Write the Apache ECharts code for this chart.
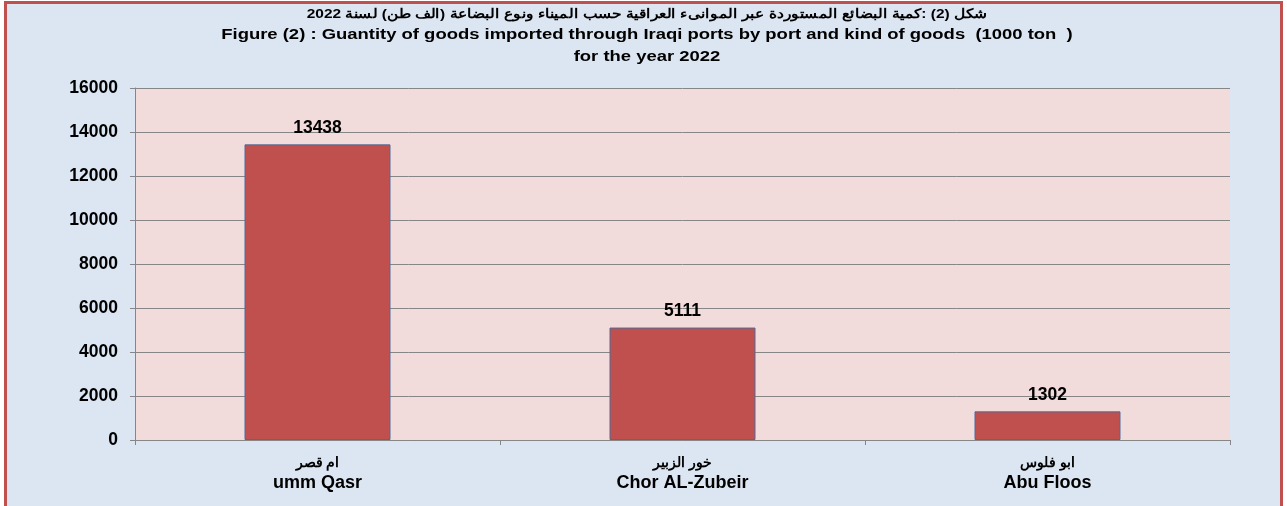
<!DOCTYPE html>
<html><head><meta charset="utf-8">
<script src="https://cdn.jsdelivr.net/npm/echarts@6/dist/echarts.min.js"></script>
<style>
html,body{margin:0;padding:0;background:#fff;}
#frame{position:absolute;left:4px;top:1px;width:1279px;height:510px;box-sizing:border-box;border:3px solid #C0504D;border-bottom:none;background:#DCE6F2;}
#c{position:absolute;left:0;top:0;width:1287px;height:506px;}
</style></head>
<body>
<div id="frame"></div>
<div id="c"></div>
<script>
const categoriesAr = ['ام قصر', 'خور الزبير', 'ابو فلوس'];
const categoriesEn = ['umm Qasr', 'Chor AL-Zubeir', 'Abu Floos'];
const values = [13438, 5111, 1302];
const titleAr = 'شكل (2) :كمية البضائع المستوردة عبر الموانىء العراقية حسب الميناء ونوع البضاعة (الف طن) لسنة 2022';
const titleEn1 = 'Figure (2) : Guantity of goods imported through Iraqi ports by port and kind of goods  (1000 ton  )';
const titleEn2 = 'for the year 2022';

const FF = "'Liberation Sans', Arial, sans-serif";
function titleText(txt, y, size) {
  return {
    type: 'text', x: 647, y: y, scaleX: 1.19, scaleY: 1,
    style: {text: txt, font: 'bold ' + size + 'px ' + FF, fill: '#000', align: 'center', verticalAlign: 'middle'}
  };
}
const chart = echarts.init(document.getElementById('c'), null, {renderer: 'canvas'});
chart.setOption({
  backgroundColor: 'transparent',
  animation: false,
  graphic: [
    titleText(titleAr, 14, 13),
    titleText(titleEn1, 35, 15.5),
    titleText(titleEn2, 57, 15.5)
  ],
  grid: {left: 135, right: 57, top: 88, bottom: 66, show: true, backgroundColor: '#F2DCDB', borderWidth: 0},
  xAxis: {
    type: 'category',
    data: categoriesEn.map((e, i) => categoriesAr[i] + '\n' + e),
    axisLine: {lineStyle: {color: '#868686', width: 1}},
    axisTick: {show: true, length: 5, lineStyle: {color: '#868686'}},
    axisLabel: {
      margin: 13,
      formatter: function (v) {
        const p = v.split('\n');
        return '{ar|' + p[0] + '}\n{en|' + p[1] + '}';
      },
      rich: {
        ar: {fontFamily: FF, fontSize: 14, fontWeight: 'bold', color: '#000', lineHeight: 20},
        en: {fontFamily: FF, fontSize: 18, fontWeight: 'bold', color: '#000', lineHeight: 21}
      }
    }
  },
  yAxis: {
    type: 'value',
    min: 0, max: 16000, interval: 2000,
    axisLine: {show: true, lineStyle: {color: '#868686'}},
    axisTick: {show: true, length: 5, lineStyle: {color: '#868686'}},
    splitLine: {lineStyle: {color: '#868686', width: 1}},
    axisLabel: {fontFamily: FF, fontSize: 17.5, fontWeight: 'bold', color: '#000', margin: 17, formatter: v => String(v)}
  },
  series: [{
    type: 'bar',
    data: values,
    barWidth: '40%',
    itemStyle: {color: '#C0504D', borderColor: '#4F6A9A', borderWidth: 1},
    label: {show: true, position: 'top', distance: 7, fontFamily: FF, fontSize: 17.5, fontWeight: 'bold', color: '#000'}
  }]
});
</script>
</body></html>
